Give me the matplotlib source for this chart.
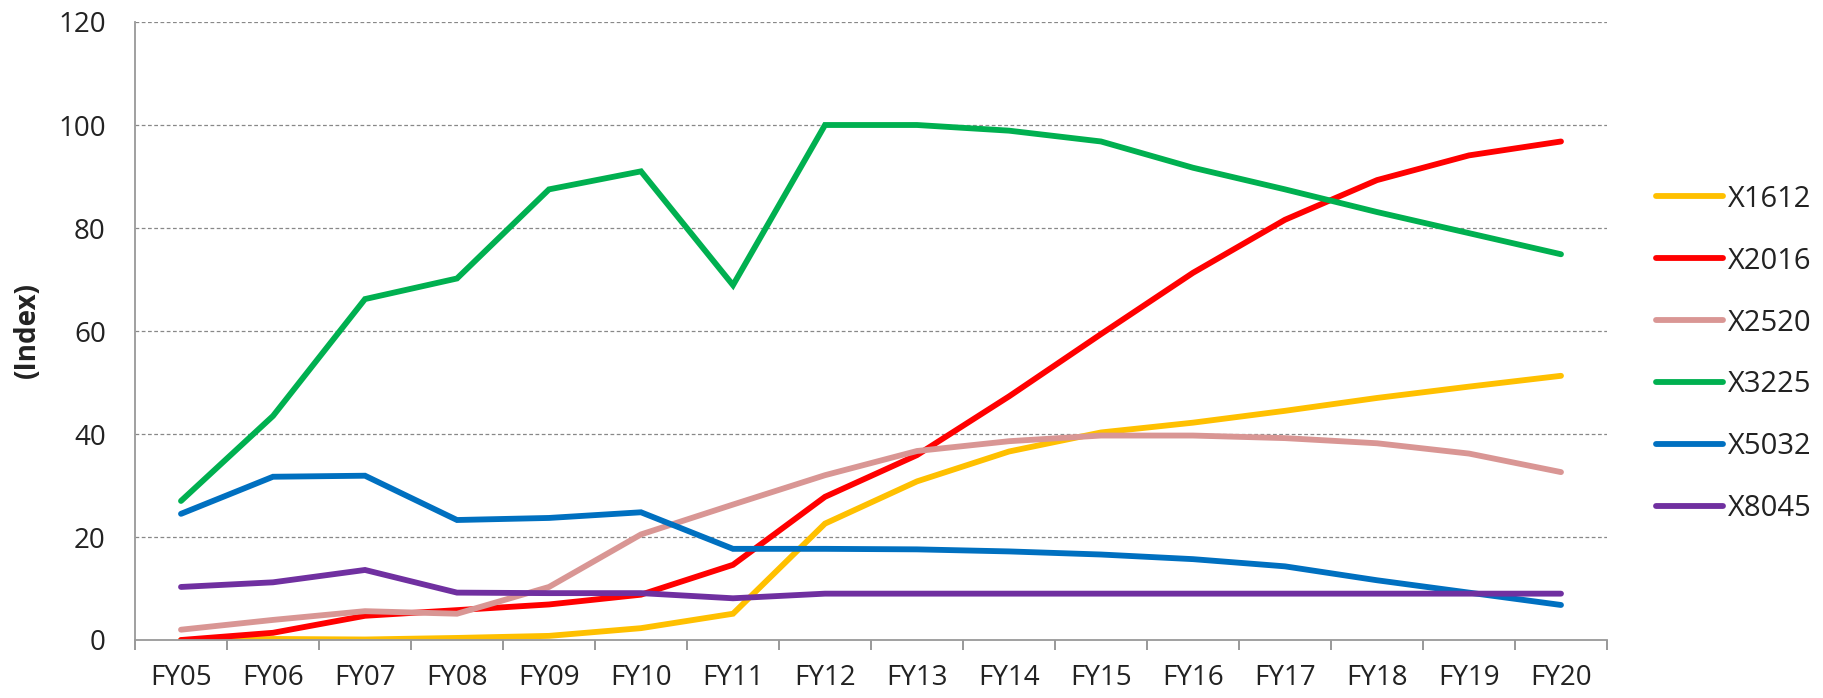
import matplotlib
matplotlib.use("Agg")
import matplotlib.pyplot as plt
import numpy as np

categories = ["FY05", "FY06", "FY07", "FY08", "FY09", "FY10", "FY11", "FY12",
              "FY13", "FY14", "FY15", "FY16", "FY17", "FY18", "FY19", "FY20"]

x1612 = [0.0, 0.2, 0.1, 0.4, 0.8, 2.3, 5.1, 22.6, 30.8, 36.6, 40.3, 42.2, 44.5, 47.0, 49.2, 51.3]
x2016 = [0.0, 1.4, 4.7, 5.8, 6.9, 8.8, 14.6, 27.8, 35.9, 47.3, 59.4, 71.3, 81.6, 89.3, 94.1, 96.8]
x2520 = [2.0, 3.9, 5.6, 5.1, 10.3, 20.5, 26.3, 32.0, 36.7, 38.6, 39.7, 39.7, 39.2, 38.2, 36.2, 32.6]
x3225 = [27.0, 43.5, 66.2, 70.2, 87.5, 91.0, 68.9, 100.0, 100.0, 98.9, 96.8, 91.7, 87.5, 83.1, 79.0, 74.9]
x5032 = [24.5, 31.7, 31.9, 23.3, 23.7, 24.8, 17.7, 17.7, 17.6, 17.2, 16.6, 15.7, 14.3, 11.6, 9.2, 6.8]
x8045 = [10.3, 11.2, 13.6, 9.2, 9.1, 9.1, 8.1, 9.0, 9.0, 9.0, 9.0, 9.0, 9.0, 9.0, 9.0, 9.0]

series_names = ["X1612", "X2016", "X2520", "X3225", "X5032", "X8045"]
series_values = [x1612, x2016, x2520, x3225, x5032, x8045]
series_colors = ["#FFC000", "#FF0000", "#D99694", "#00B050", "#0070C0", "#7030A0"]

y_ticks = [0, 20, 40, 60, 80, 100, 120]
y_label = "(Index)"

plt.rcParams['font.family'] = ['Open Sans', 'DejaVu Sans']

W, H = 1823, 698
fig = plt.figure(figsize=(W / 100, H / 100), dpi=100)
ax = fig.add_axes([135 / W, 1 - 640 / H, (1607 - 135) / W, (640 - 22) / H])

n = len(categories)
xpos = np.arange(n) + 0.5
lines = []
for name, vals, col in zip(series_names, series_values, series_colors):
    ln, = ax.plot(xpos, vals, color=col, lw=4.2, solid_capstyle='round',
                  solid_joinstyle='miter', label=name)
    lines.append(ln)

ax.set_xlim(0, n)
ax.set_ylim(0, 120)
ax.set_yticks(y_ticks)
ax.set_yticklabels([str(v) for v in y_ticks], fontsize=20, color="#222222")
ax.tick_params(axis='y', length=0, pad=21)

ax.set_xticks(np.arange(n + 1))
ax.set_xticklabels([])
ax.set_xticks(xpos, minor=True)
ax.set_xticklabels(categories, minor=True, fontsize=20, color="#222222")
ax.tick_params(axis='x', which='major', length=7, width=1.2, color="#888888", direction='out')
ax.tick_params(axis='x', which='minor', length=0, pad=17)

for v in y_ticks[1:]:
    ax.axhline(v, color="#888888", lw=0.9, ls=(0, (3, 2)), zorder=0)

for s in ['top', 'right']:
    ax.spines[s].set_visible(False)
for s in ['left', 'bottom']:
    ax.spines[s].set_color("#999999")
    ax.spines[s].set_linewidth(1.3)

fig.text(27 / W, 1 - 330 / H, y_label, rotation=90, fontsize=20, fontweight='bold',
         ha='center', va='center', color="#222222")

leg = fig.legend(handles=lines, loc='center left', bbox_to_anchor=(1656 / W, 1 - 354 / H),
                 frameon=False, fontsize=21, handlelength=2.3, handletextpad=0.15,
                 labelspacing=1.13, borderpad=0, borderaxespad=0)
for t in leg.get_texts():
    t.set_color("#222222")

fig.savefig("out.png", dpi=100)
